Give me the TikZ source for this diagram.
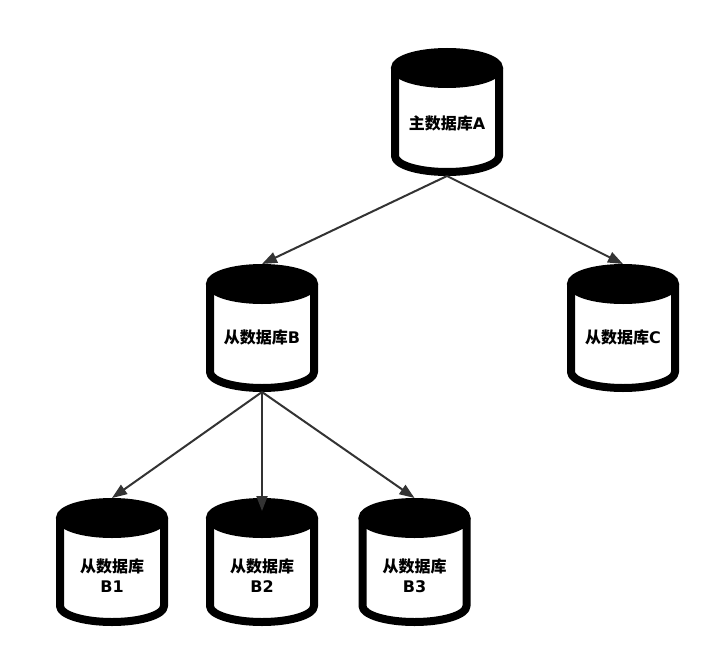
\documentclass[tikz,border=0pt]{standalone}
\usepackage{fontspec}
\setmainfont{DejaVu Sans}
\newfontfamily\cjkbold{Noto Sans CJK SC Bold}
\usetikzlibrary{arrows.meta}
\tikzset{
  x=1pt,y=-1pt,
  cylbox/.style={minimum width=112pt,minimum height=128pt,inner sep=0pt,outer sep=0pt},
  cyllabel/.style={font=\fontsize{16}{20}\selectfont\bfseries,align=center,text=black,inner sep=0pt},
  cylbody/.style={draw=black,fill=white,line width=8pt,line join=round},
  cyltop/.style={draw=black,fill=black,line width=8pt},
  link/.style={draw=black!80,line width=2pt,-{Triangle[length=15pt,width=11pt]}}
}
\newcommand{\cz}[1]{{\cjkbold #1}}
\newcommand{\cyl}[5]{%
  \node[cylbox] (#1) at (#2+56,#3+64) {};
  \path[cylbody,shift={(#2,#3)}] (4,20) -- (4,108) arc[start angle=180,end angle=0,x radius=52,y radius=16] -- (108,20);
  \path[cyltop,shift={(#2,#3)}] (56,20) ellipse[x radius=52,y radius=16];
  \node[cyllabel] (#1-label) at (#2+56,#3+#4) {#5};
}
\begin{document}
\begin{tikzpicture}
\useasboundingbox (0,0) rectangle (719,658);
\fill[white] (0,0) rectangle (719,658);
\cyl{A}{391}{48}{75.4}{\cz{主数据库}A}
\cyl{B}{206}{264}{73.4}{\cz{从数据库}B}
\cyl{C}{567}{264}{73.4}{\cz{从数据库}C}
\cyl{BA}{56}{498}{77.8}{\cz{从数据库}\\B1}
\cyl{BB}{206}{498}{77.8}{\cz{从数据库}\\B2}
\cyl{BC}{358.5}{498}{77.8}{\cz{从数据库}\\B3}
\draw[link] (A.south) -- (B.north);
\draw[link] (A.south) -- (C.north);
\draw[link] (B.south) -- (BA.north);
\draw[link] (B.south) -- ([yshift=-13pt]BB.north);
\draw[link] (B.south) -- (BC.north);
\end{tikzpicture}
\end{document}
